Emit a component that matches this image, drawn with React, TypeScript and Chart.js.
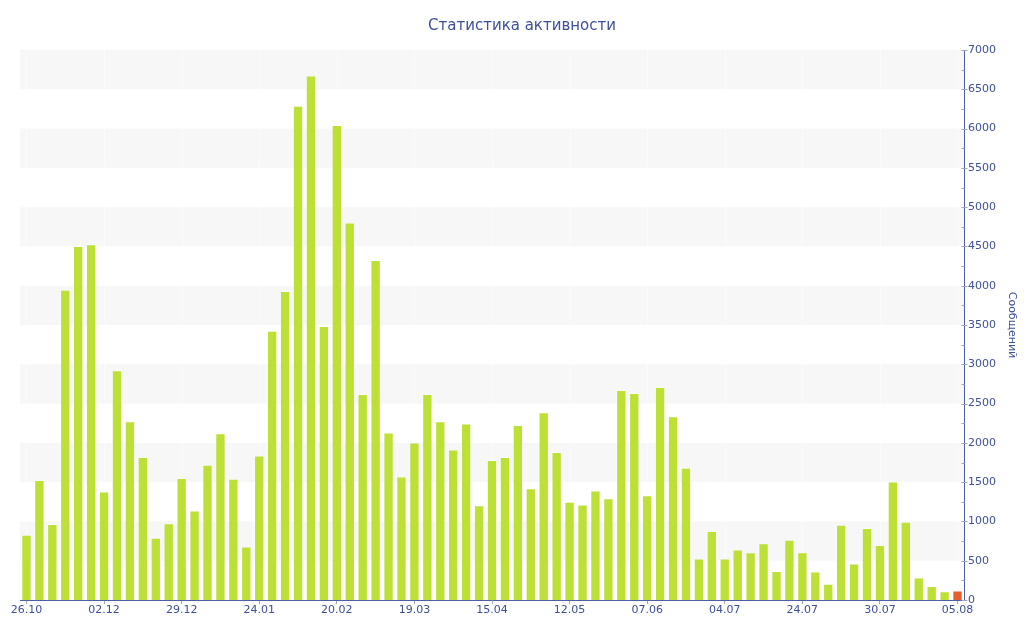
import React, { useEffect, useRef } from "react";
import { Chart, registerables } from "chart.js";

Chart.register(...registerables);

const chartTitle = "Статистика активности";
const axisTitle = "Сообщений";

const tickLabels = [
  "26.10", "02.12", "29.12", "24.01", "20.02", "19.03", "15.04",
  "12.05", "07.06", "04.07", "24.07", "30.07", "05.08",
];
const labelEvery = 6;

const messages = [
  829, 1528, 968, 3948, 4504, 4528, 1380, 2923, 2276, 1821,
  791, 977, 1552, 1140, 1720, 2123, 1543, 680, 1840, 3426,
  3934, 6291, 6674, 3488, 6046, 4806, 2621, 4327, 2132, 1572,
  2003, 2621, 2276, 1916, 2247, 1207, 1782, 1821, 2228, 1423,
  2391, 1883, 1251, 1217, 1394, 1294, 2673, 2635, 1332, 2712,
  2338, 1682, 527, 877, 527, 642, 608, 723, 369, 767,
  608, 364, 206, 958, 465, 915, 700, 1509, 997, 287,
  177, 110, 120,
];

const yMin = 0;
const yMax = 7000;
const yMajor = 500;
const yMinor = 250;

const BAR = "#bde036";
const BAR_LAST = "#e2612c";
const AXIS = "#4d5ea2";
const TEXT = "#3f4f98";
const BAND = "#f7f7f7";

export default function App() {
  const ref = useRef<HTMLCanvasElement | null>(null);

  useEffect(() => {
    if (!ref.current) return;
    const categories = messages.map((_, i) =>
      i % labelEvery === 0 ? tickLabels[i / labelEvery] ?? "" : ""
    );

    const bandsPlugin = {
      id: "bands",
      beforeDatasetsDraw(chart: any) {
        const { ctx, chartArea, scales } = chart;
        const y = scales.y;
        ctx.save();
        ctx.fillStyle = BAND;
        for (let v = yMin + yMajor; v < yMax; v += 2 * yMajor) {
          const y1 = y.getPixelForValue(v + yMajor);
          const y0 = y.getPixelForValue(v);
          ctx.fillRect(chartArea.left, y1, chartArea.right - chartArea.left, y0 - y1);
        }
        const x = scales.x;
        ctx.strokeStyle = "rgba(255,255,255,0.5)";
        ctx.lineWidth = 1;
        categories.forEach((c, i) => {
          if (!c) return;
          const px = Math.round(x.getPixelForValue(i)) + 0.5;
          ctx.beginPath();
          ctx.moveTo(px, chartArea.top);
          ctx.lineTo(px, chartArea.bottom);
          ctx.stroke();
        });
        ctx.restore();
      },
      afterDraw(chart: any) {
        const { ctx, scales } = chart;
        const y = scales.y;
        const ax = Math.round(y.left) + 0.5;
        ctx.save();
        ctx.strokeStyle = "#a0a6bd";
        ctx.lineWidth = 1;
        for (let v = yMin; v <= yMax; v += yMinor) {
          const py = Math.round(y.getPixelForValue(v)) + 0.5;
          const major = v % yMajor === 0;
          ctx.beginPath();
          ctx.moveTo(ax - 3, py);
          ctx.lineTo(major ? ax + 3 : ax, py);
          ctx.stroke();
        }
        ctx.restore();
      },
    };

    const chart = new Chart(ref.current, {
      type: "bar",
      data: {
        labels: categories,
        datasets: [
          {
            label: axisTitle,
            data: messages,
            backgroundColor: messages.map((_, i) =>
              i === messages.length - 1 ? BAR_LAST : BAR
            ),
            borderColor: "rgba(255,255,255,0.35)",
            borderWidth: 1,
            barPercentage: 0.8,
            categoryPercentage: 1,
          },
        ],
      },
      options: {
        animation: false,
        responsive: true,
        maintainAspectRatio: false,
        layout: { padding: { left: 20, right: 0, top: 0, bottom: 0 } },
        plugins: {
          legend: { display: false },
          tooltip: { enabled: false },
          title: {
            display: true,
            text: chartTitle,
            color: TEXT,
            font: { family: "'DejaVu Sans'", size: 15, weight: "normal" },
            padding: { top: 17, bottom: 15 },
          },
        },
        scales: {
          x: {
            offset: true,
            grid: {
              display: true,
              offset: false,
              drawOnChartArea: false,
              drawTicks: true,
              tickLength: 4,
              tickColor: (c: any) =>
                categories[c.index] ? "#a0a6bd" : "rgba(0,0,0,0)",
            },
            border: { display: true, color: AXIS, width: 1 },
            ticks: {
              autoSkip: false,
              maxRotation: 0,
              minRotation: 0,
              padding: 0,
              color: TEXT,
              font: { family: "'DejaVu Sans'", size: 11 },
              callback: (_v: any, i: number) => categories[i],
            },
            afterFit: (s: any) => {
              s.height = 40;
            },
          },
          y: {
            position: "right",
            min: yMin,
            max: yMax,
            grid: { display: false, drawTicks: false },
            border: { display: true, color: AXIS, width: 1 },
            ticks: {
              stepSize: yMinor,
              padding: 4,
              color: TEXT,
              font: { family: "'DejaVu Sans'", size: 11 },
              callback: (v: any) => (Number(v) % yMajor === 0 ? String(v) : ""),
            },
            title: {
              display: true,
              text: axisTitle,
              color: TEXT,
              font: { family: "'DejaVu Sans'", size: 11 },
              padding: { top: 6, bottom: 0 },
            },
            afterFit: (s: any) => {
              s.width = 60;
            },
          },
        },
      },
      plugins: [bandsPlugin],
    });
    return () => chart.destroy();
  }, []);

  return (
    <div style={{ position: "absolute", left: 0, top: 0, width: 1024, height: 640, background: "#fff" }}>
      <canvas ref={ref} />
    </div>
  );
}
